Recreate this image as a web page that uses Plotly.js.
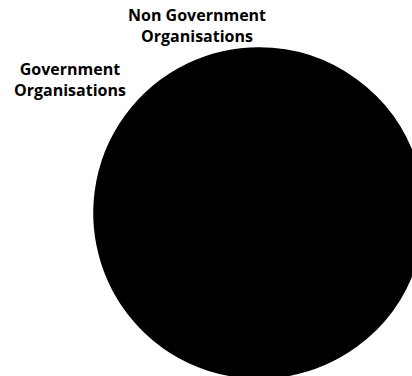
<!DOCTYPE html>
<html>
<head>
<meta charset="utf-8">
<script src="https://cdn.plot.ly/plotly-3.0.1.min.js"></script>
<style>
html,body{margin:0;padding:0;overflow:hidden;background:#fff;width:412px;height:376px;}
#chart{position:absolute;left:0;top:0;}
</style>
</head>
<body>
<div id="chart"></div>
<script>
// Data (slice values are not readable: the whole pie is drawn in black)
const categories = ["Government Organisations", "Non Government Organisations"];
const labelText = ["Government<br>Organisations", "Non Government<br>Organisations"];
const values = [40, 60];
const colors = ["#000000", "#000000"];

const W = 450, H = 400;
const labelPos = [
  {x: 70 / W, y: (H - 80) / H},
  {x: 197 / W, y: (H - 25) / H}
];

const trace = {
  type: "pie",
  labels: categories,
  values: values,
  marker: {colors: colors, line: {color: "#000000", width: 1.5}},
  textinfo: "none",
  hoverinfo: "label+percent",
  sort: false,
  showlegend: false,
  domain: {x: [94 / W, 424 / W], y: [(H - 378) / H, (H - 48) / H]}
};

const annotations = categories.map((c, i) => ({
  text: labelText[i],
  x: labelPos[i].x, y: labelPos[i].y,
  xref: "paper", yref: "paper",
  xanchor: "center", yanchor: "middle",
  showarrow: false,
  align: "center",
  font: {family: "Open Sans", size: 16, color: "#000000", weight: 700}
}));

const layout = {
  width: W, height: H,
  margin: {l: 0, r: 0, t: 0, b: 0, pad: 0},
  paper_bgcolor: "#ffffff",
  plot_bgcolor: "#ffffff",
  showlegend: false,
  annotations: annotations
};

Plotly.newPlot("chart", [trace], layout, {displayModeBar: false, staticPlot: true});
</script>
</body>
</html>
